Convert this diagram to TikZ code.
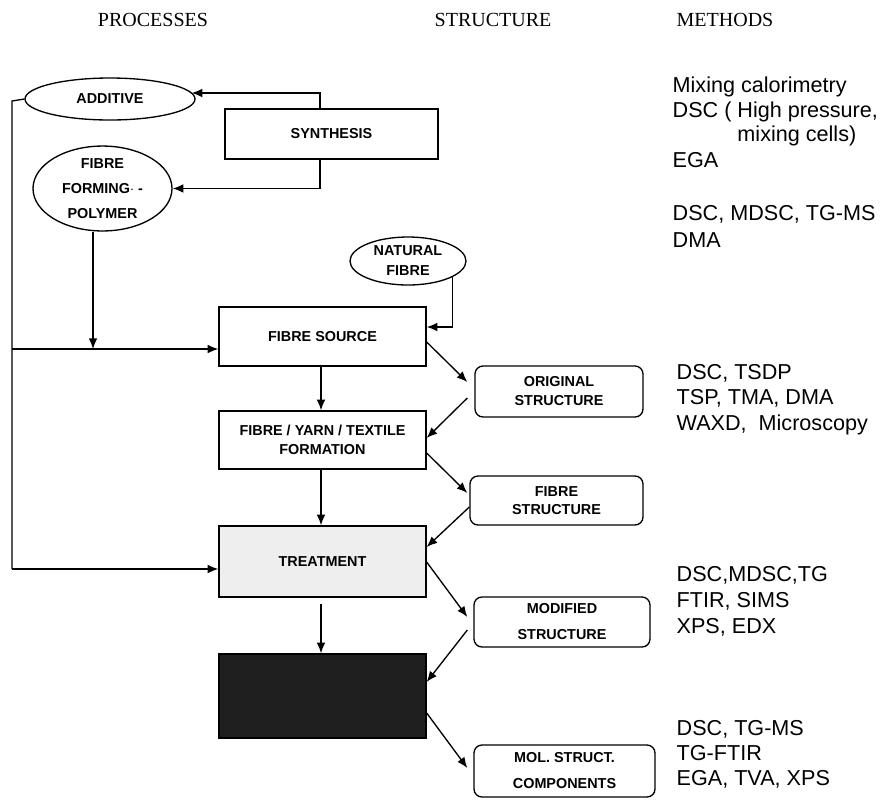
\documentclass[tikz,border=0pt]{standalone}
\usepackage{fontspec}
\setmainfont{Liberation Serif}
\newfontfamily\arialf{Liberation Sans}
\usetikzlibrary{arrows.meta,calc,shapes.geometric}
\begin{document}
\begin{tikzpicture}[x=0.75pt,y=-0.75pt,
  line width=1pt,
  arr/.style={-{Latex[length=8pt,width=6.5pt]}},
  boxtxt/.style={align=center,font=\arialf\bfseries\fontsize{10.8}{13}\selectfont,inner sep=0pt},
  procbox/.style={boxtxt,draw,rectangle,minimum width=155.25pt},
  strbox/.style={boxtxt,draw,rectangle,rounded corners=6pt},
  ell/.style={boxtxt,draw,ellipse},
  hdr/.style={font=\fontsize{15}{18}\selectfont,inner sep=0pt},
  meth/.style={font=\arialf\fontsize{16.2}{18.75}\selectfont,anchor=base west,inner sep=0pt}]
\useasboundingbox (0,0) rectangle (885,801);
\fill[white] (0,0) rectangle (885,801);

% headers
\node[hdr] (hp) at (153,20) {PROCESSES};
\node[hdr] (hs) at (493,20) {STRUCTURE};
\node[hdr] (hm) at (725,20) {METHODS};

% process nodes
\node[boxtxt,draw,rectangle,minimum width=159.75pt,minimum height=37.5pt] (syn) at (331.5,134) {SYNTHESIS};
\node[ell,minimum width=127.5pt,minimum height=31.5pt] (add) at (110,99) {ADDITIVE};
\node[ell,minimum width=104.25pt,minimum height=62.25pt] (ffp) at (102.5,188.5) {FIBRE\\[5.75pt]FORMING$\cdot$ -\\[5.75pt]POLYMER};
\node[ell,minimum width=87pt,minimum height=36pt] (nat) at (408,261) {NATURAL\\[2pt]FIBRE};
\node[procbox,minimum height=44.25pt] (fs) at (322.5,336.5) {FIBRE SOURCE};
\node[procbox,minimum height=43.5pt] (ft) at (322.5,440) {FIBRE / YARN / TEXTILE\\[1.25pt]FORMATION};
\node[procbox,minimum height=53.25pt,fill=gray!13] (tr) at (322.5,561.5) {TREATMENT};
\node[procbox,minimum height=63pt,fill=black!88] (bk) at (322.5,696) {};

% structure nodes
\node[strbox,minimum width=126pt,minimum height=38.25pt] (og) at (559,391.5) {ORIGINAL\\[1.25pt]STRUCTURE};
\node[strbox,minimum width=129.75pt,minimum height=36.75pt] (fst) at (556.5,500.5) {FIBRE\\STRUCTURE};
\node[strbox,minimum width=132pt,minimum height=37.5pt] (md) at (562,622) {MODIFIED\\[6.5pt]STRUCTURE};
\node[strbox,minimum width=135.75pt,minimum height=39pt] (mol) at (564.5,771) {MOL. STRUCT.\\[6.5pt]COMPONENTS};

% methods
\node[meth] (m1) at (672,92.6) {Mixing calorimetry};
\node[meth] (m2) at (672,117.6) {DSC ( High pressure,};
\node[meth] (m3) at (672,141.6) {\phantom{DSC ( }mixing cells)};
\node[meth] (m4) at (672,167.6) {EGA};
\node[meth] (m5) at (672,220.6) {DSC, MDSC, TG-MS};
\node[meth] (m6) at (672,247.6) {DMA};
\node[meth] (m7) at (676,379.6) {DSC, TSDP};
\node[meth] (m8) at (676,404.6) {TSP, TMA, DMA};
\node[meth] (m9) at (676,430.6) {WAXD,\ \ Microscopy};
\node[meth] (m10) at (676,581.6) {DSC,MDSC,TG};
\node[meth] (m11) at (676,607.6) {FTIR, SIMS};
\node[meth] (m12) at (676,633.6) {XPS, EDX};
\node[meth] (m13) at (676,735.6) {DSC, TG-MS};
\node[meth] (m14) at (676,760.6) {TG-FTIR};
\node[meth] (m15) at (676,785.6) {EGA, TVA, XPS};

% connectors from synthesis
\draw[arr] ($(syn.north)+(-11.5,0)$) |- ($(add.east)+(-4,-6)$);
\draw[arr] ($(syn.south)+(-11.5,0)$) |- (ffp.east);

% left feed line
\coordinate (lt) at (12,101);
\coordinate (lm) at (12,349);
\coordinate (lb) at (12,569);
\draw (add.west) -- (lt) -- (lb);
\draw[arr] (lm) -- (lm -| fs.west);
\draw[arr] (lb) -- (lb -| tr.west);
\coordinate (p1) at ($(ffp.south)+(-9.5,0)$);
\draw[arr] (p1) -- (p1 |- lm);

% natural fibre
\draw[arr] (nat.-20) |- ($(fs.east)+(0,-9.5)$);

% vertical process chain
\draw[arr] ($(fs.south)+(-1.5,0)$) -- ($(ft.north)+(-1.5,0)$);
\draw[arr] ($(ft.south)+(-1.5,0)$) -- ($(tr.north)+(-1.5,0)$);
\draw[arr] ($(tr.south)+(-1.5,6)$) -- ($(bk.north)+(-1.5,0)$);

% diagonals
\draw[arr] ($(fs.east)+(0,5.5)$) -- ($(og.west)+(-7,-9.5)$);
\draw[arr] ($(og.west)+(-7,6.5)$) -- ($(ft.east)+(0,-2)$);
\draw[arr] ($(ft.east)+(0,13)$) -- ($(fst.west)+(-2,-7.5)$);
\draw[arr] ($(fst.west)+(0,6.5)$) -- ($(tr.east)+(0,-14.5)$);
\draw[arr] ($(tr.east)+(0,0.5)$) -- ($(md.west)+(-6,-5)$);
\draw[arr] ($(md.west)+(-6,8)$) -- ($(bk.east)+(0,-14)$);
\draw[arr] ($(bk.east)+(0,17)$) -- ($(mol.west)+(-6,-3)$);
\end{tikzpicture}
\end{document}
